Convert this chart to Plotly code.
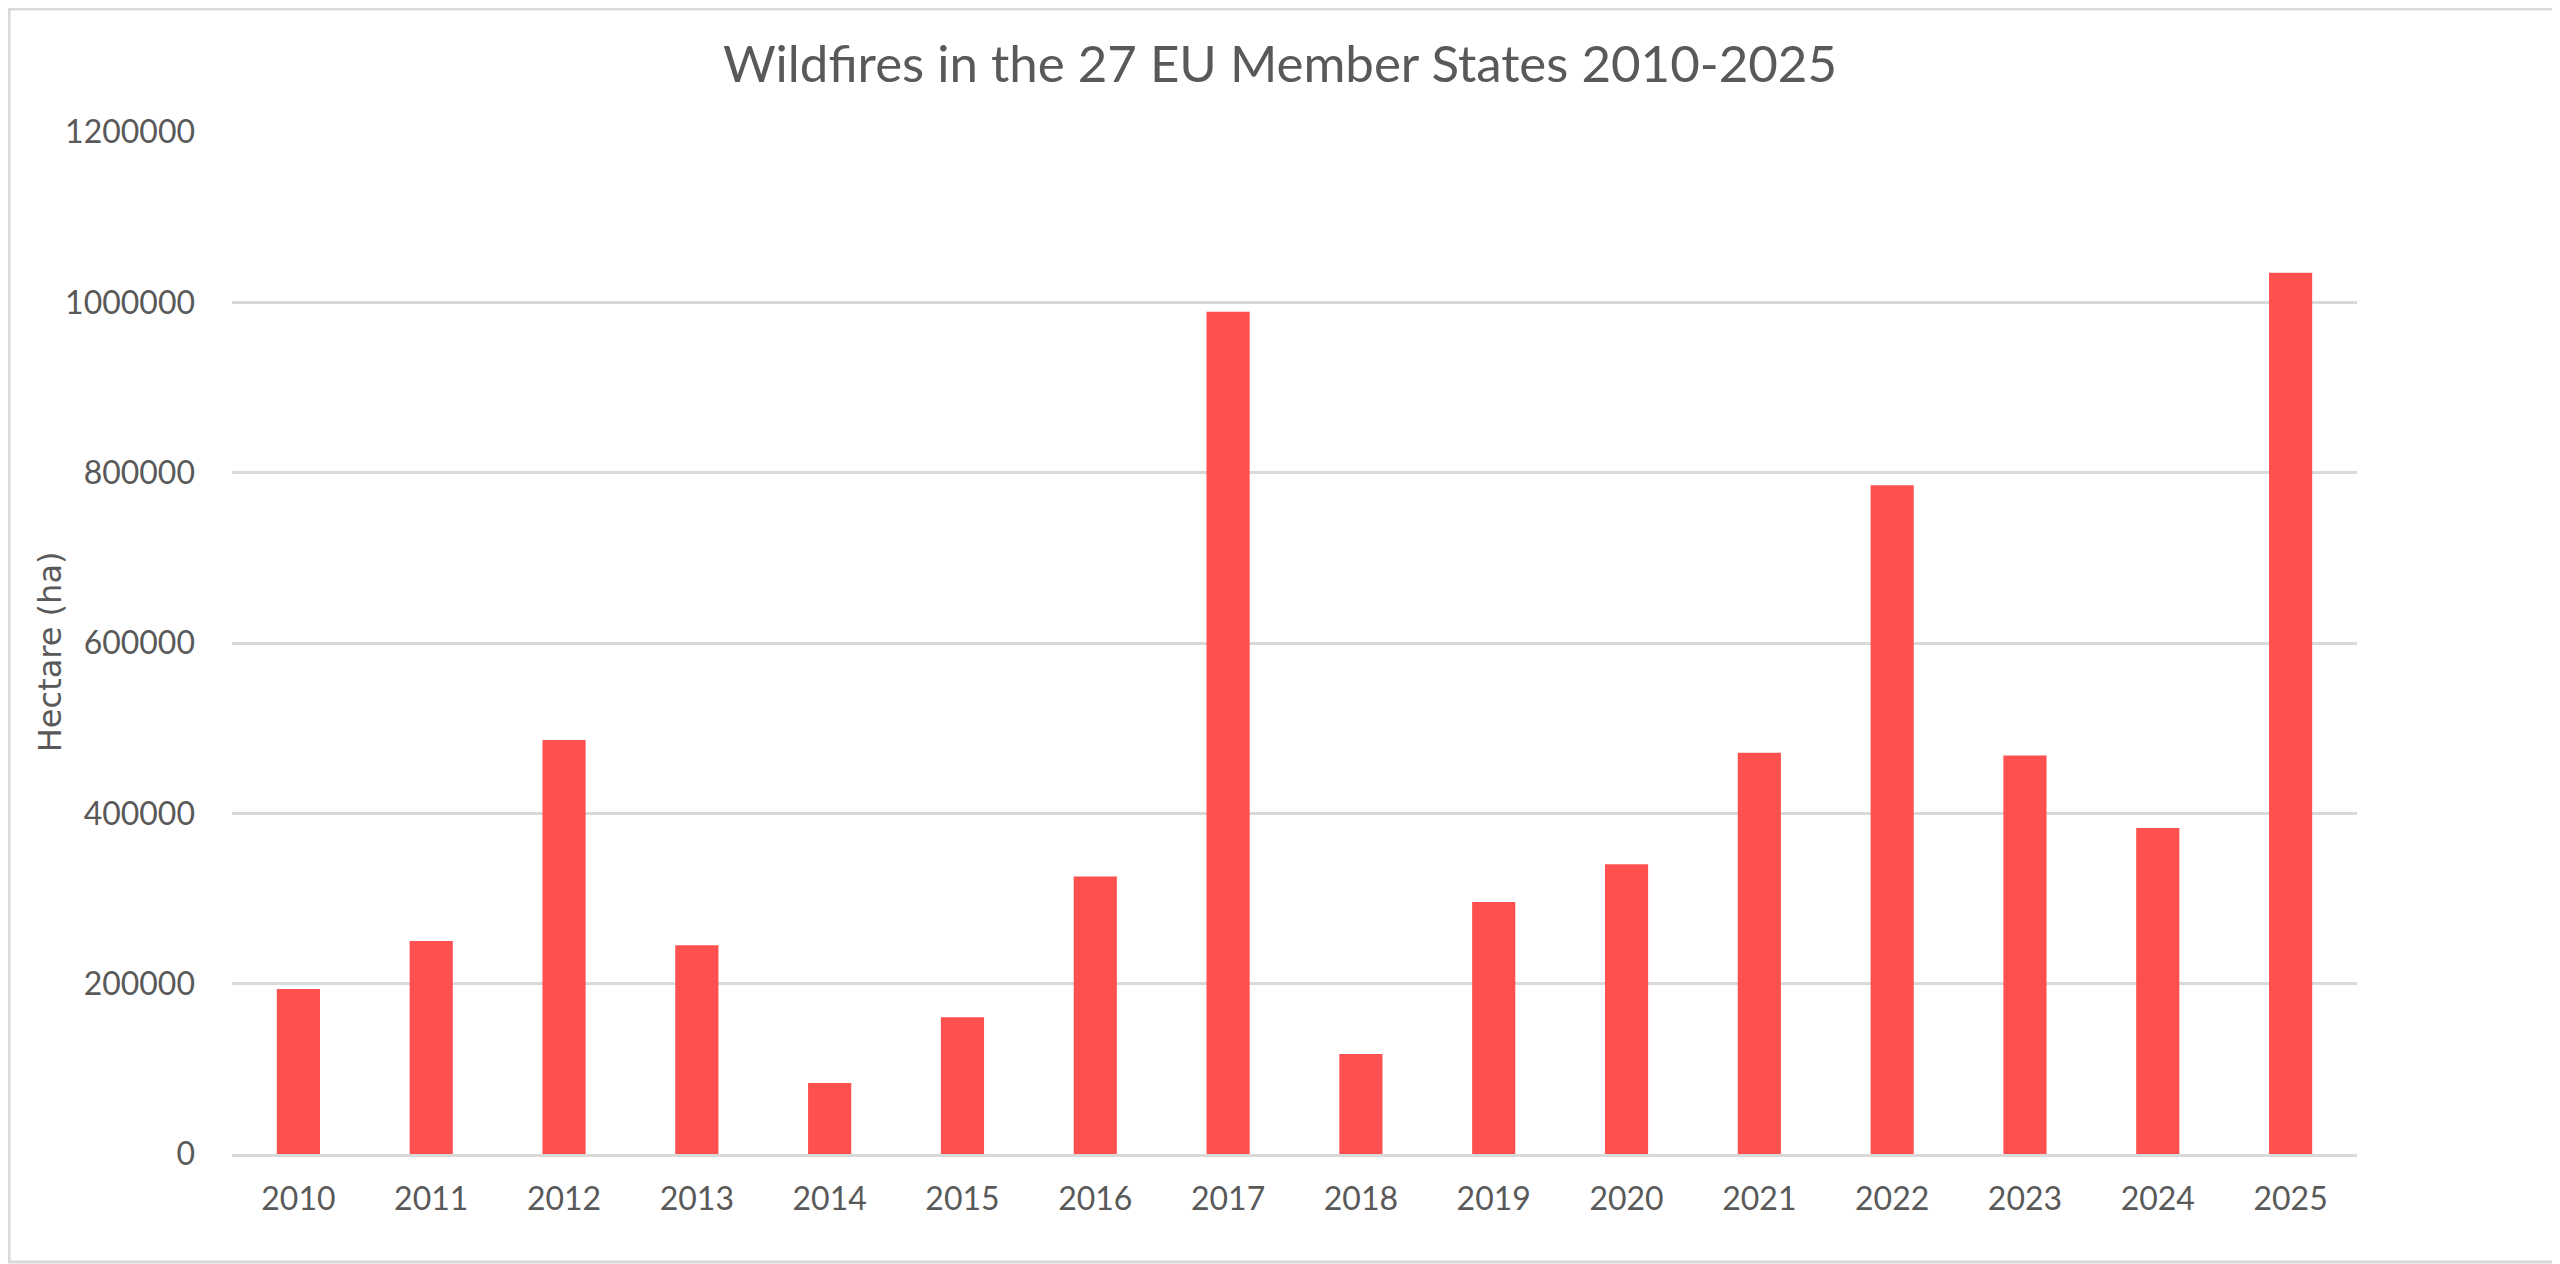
import plotly.graph_objects as go

# burnt area per year
years = ["2010", "2011", "2012", "2013", "2014", "2015", "2016", "2017",
         "2018", "2019", "2020", "2021", "2022", "2023", "2024", "2025"]
hectares = [193800, 250100, 486200, 245100, 83400, 160500, 325700, 988800,
            117400, 296000, 340200, 471000, 785300, 467800, 382900, 1034600]
y_ticks = [0, 200000, 400000, 600000, 800000, 1000000, 1200000]

# page body has an 8px margin, so the figure is a bit smaller than the window
W, H = 2552, 1256
M = dict(l=224, r=203, t=124, b=110)
TXT = "#595959"
GRID = "#d9d9d9"
FONT = "Lato, 'Open Sans', sans-serif"

fig = go.Figure(go.Bar(
    x=years, y=hectares,
    marker=dict(color="#ff5050", line=dict(width=0)),
    hoverinfo="x+y",
))

pw = W - M["l"] - M["r"]
ph = H - M["t"] - M["b"]

fig.update_layout(
    width=W, height=H,
    margin=M,
    paper_bgcolor="white", plot_bgcolor="white",
    font=dict(family=FONT, color=TXT, size=32),
    bargap=0.675,
    showlegend=False,
    title=dict(
        text="Wildfires in the 27 EU Member States 2010-2025",
        x=(1280 - 8) / W, xref="container", xanchor="center",
        y=1 - 56 / H, yref="container", yanchor="middle",
        font=dict(family=FONT, size=51, color=TXT),
    ),
    xaxis=dict(
        type="category",
        showgrid=False,
        showline=True, linecolor=GRID, linewidth=2.5,
        ticks="", ticklabelstandoff=15,
        tickfont=dict(size=32, color=TXT),
    ),
    yaxis=dict(
        range=[0, 1200000],
        tickvals=y_ticks,
        ticktext=[str(v) for v in y_ticks],
        showgrid=True, gridcolor=GRID, gridwidth=2.5,
        zeroline=False,
        ticks="", ticklabelstandoff=36,
        tickfont=dict(size=32, color=TXT),
    ),
    # y-axis title sits tight against the tick labels, so place it directly
    annotations=[dict(
        text="Hectare (ha)", textangle=-90,
        xref="paper", yref="paper",
        x=-(M["l"] - 42) / pw, y=0.491,
        xanchor="center", yanchor="middle", showarrow=False,
        font=dict(family="'DejaVu Sans', sans-serif", size=32, color=TXT),
    )],
    shapes=[dict(
        type="rect", xref="paper", yref="paper",
        x0=-(M["l"] - 1) / pw, x1=1 + (M["r"] - 2) / pw,
        y0=-(M["b"] - 2) / ph, y1=1 + (M["t"] - 1) / ph,
        line=dict(color=GRID, width=3), layer="below",
    )],
)

fig.write_html("out.html")
